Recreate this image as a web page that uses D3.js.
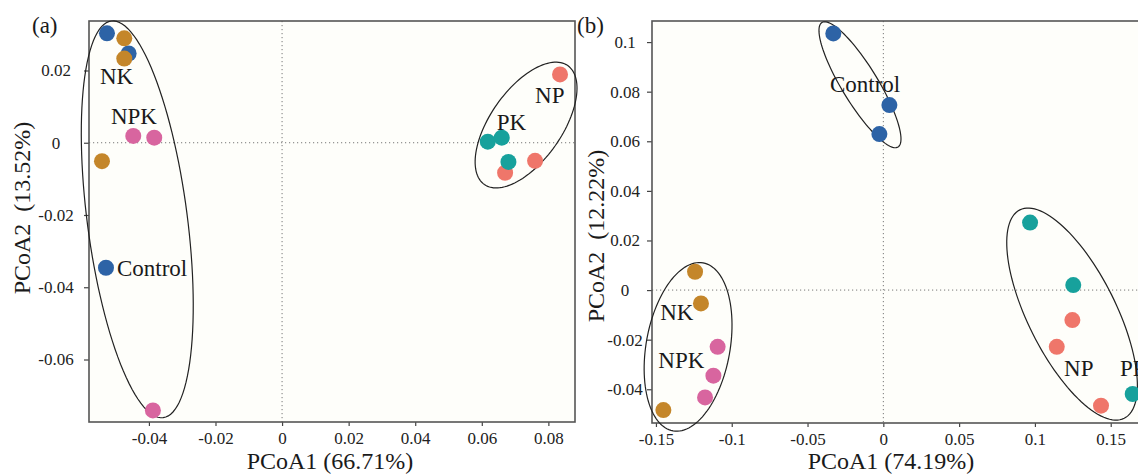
<!DOCTYPE html>
<html><head><meta charset="utf-8">
<script src="https://cdn.jsdelivr.net/npm/d3@7"></script>
<style>
html,body{margin:0;padding:0;background:#fff;overflow:hidden}
svg{display:block;font-family:"Liberation Serif","Times New Roman",serif}
</style></head>
<body><svg id="c" width="1138" height="476"></svg>
<script>
// ---------- DATA ----------
const groups = ["Control","NK","NPK","NP","PK"];
const groupColors = ["#2d63a6","#c4862a","#d8659f","#ef766a","#17a19c"];

// Panel (a) points: [group, PCoA1, PCoA2]
const pointsA = [
  ["Control",-0.0526,0.0303],["Control",-0.0461,0.0247],["Control",-0.0529,-0.0346],
  ["NK",-0.0474,0.0289],["NK",-0.0474,0.0233],["NK",-0.0541,-0.0051],
  ["NPK",-0.0447,0.0019],["NPK",-0.0384,0.0014],["NPK",-0.0388,-0.0741],
  ["NP",0.0835,0.0189],["NP",0.0670,-0.0083],["NP",0.0760,-0.0050],
  ["PK",0.0618,0.0003],["PK",0.0660,0.0014],["PK",0.0680,-0.0053]
];
// Panel (b) points
const pointsB = [
  ["Control",-0.0330,0.1035],["Control",0.0040,0.0746],["Control",-0.0026,0.0629],
  ["NK",-0.1242,0.0074],["NK",-0.1203,-0.0054],["NK",-0.1451,-0.0484],
  ["NPK",-0.1093,-0.0229],["NPK",-0.1121,-0.0345],["NPK",-0.1176,-0.0433],
  ["NP",0.1247,-0.0121],["NP",0.1144,-0.0229],["NP",0.1436,-0.0466],
  ["PK",0.0968,0.0272],["PK",0.1253,0.0020],["PK",0.1645,-0.0419]
];
// Ellipses: [centerX, centerY, axis1X, axis1Y, axis2X, axis2Y] in data units
const ellipsesA = [
  [-0.0435,-0.0212,-0.0078,0.0549,0.0149,0.0018],
  [0.0733,0.0049,0.01252,0.01646,0.0088,-0.00567]
];
const ellipsesB = [
  [-0.0154,0.0828,0.02507,-0.02512,-0.01016,-0.00379],
  [-0.1288,-0.0229,0.0099,0.03387,0.02724,-0.00298],
  [0.1245,-0.00968,0.03443,-0.04202,-0.02592,-0.00794]
];
// Group labels: [text, x, y] in data units
const labelsA = [["NK",-0.0547,0.01625],["NPK",-0.0514,0.0051],["Control",-0.0496,-0.0369],["PK",0.0645,0.0035],["NP",0.0760,0.0111]];
const labelsB = [["Control",-0.0352,0.0800],["NK",-0.1472,-0.0121],["NPK",-0.1484,-0.0313],["NP",0.1192,-0.0345],["PK",0.1561,-0.0345]];

const xTicksA = [-0.04,-0.02,0,0.02,0.04,0.06,0.08];
const yTicksA = [-0.06,-0.04,-0.02,0,0.02];
const xTicksB = [-0.15,-0.1,-0.05,0,0.05,0.1,0.15];
const yTicksB = [-0.04,-0.02,0,0.02,0.04,0.06,0.08,0.1];

const xDomainA = [-0.058,0.088], yDomainA = [-0.0773,0.0337];
const xDomainB = [-0.1526,0.2023], yDomainB = [-0.0536,0.1085];

const titlesA = {tag:"(a)", x:"PCoA1 (66.71%)", y:"PCoA2\u00A0\u00A0(13.52%)"};
const titlesB = {tag:"(b)", x:"PCoA1 (74.19%)", y:"PCoA2\u00A0\u00A0(12.22%)"};

// ---------- DRAW ----------
const svg = d3.select("#c");
const color = d3.scaleOrdinal(groups, groupColors);
const fmt = v => v === 0 ? "0" : String(v);

function panel(cfg){
  const {L,R,T,B} = cfg;
  const x = d3.scaleLinear(cfg.xd,[L,R]);
  const y = d3.scaleLinear(cfg.yd,[B,T]);
  const g = svg.append("g");
  g.append("rect").attr("x",L).attr("y",T).attr("width",R-L).attr("height",B-T).attr("fill","#fefefa");
  // zero lines
  g.append("line").attr("x1",x(0)).attr("x2",x(0)).attr("y1",T).attr("y2",B)
    .attr("stroke","#777").attr("stroke-width",1).attr("stroke-dasharray","1.2,2.8");
  g.append("line").attr("x1",L).attr("x2",R).attr("y1",y(0)).attr("y2",y(0))
    .attr("stroke","#777").attr("stroke-width",1).attr("stroke-dasharray","1.2,2.8");
  // axes
  const ax = g.append("g").attr("transform",`translate(0,${B})`)
    .call(d3.axisBottom(x).tickValues(cfg.xt).tickSize(4).tickFormat(fmt));
  const ay = g.append("g").attr("transform",`translate(${L},0)`)
    .call(d3.axisLeft(y).tickValues(cfg.yt).tickSize(5).tickFormat(fmt));
  [ax,ay].forEach(a=>{
    a.attr("font-family","Liberation Serif");
    a.select(".domain").remove();
    a.selectAll("line").attr("stroke","#444").attr("stroke-width",1.2);
    a.selectAll("text").attr("font-family","Liberation Serif").attr("font-size",17).attr("fill","#222");
  });
  ax.selectAll("text").attr("y",10);
  ay.selectAll("text").attr("text-anchor","middle").attr("x",-cfg.ylabOff);
  // frame
  g.append("rect").attr("x",L).attr("y",T).attr("width",R-L).attr("height",B-T)
    .attr("fill","none").attr("stroke","#555").attr("stroke-width",1.6);
  // ellipses
  const line = d3.line();
  cfg.ell.forEach(e=>{
    const pts = d3.range(0,121).map(i=>{
      const t = i/120*2*Math.PI;
      return [x(e[0]+Math.cos(t)*e[2]+Math.sin(t)*e[4]), y(e[1]+Math.cos(t)*e[3]+Math.sin(t)*e[5])];
    });
    g.append("path").attr("d",line(pts)+"Z").attr("fill","none").attr("stroke","#222").attr("stroke-width",1.2);
  });
  // points, drawn group by group
  groups.forEach(gr=>{
    g.selectAll(null).data(cfg.pts.filter(p=>p[0]===gr)).enter().append("circle")
      .attr("cx",d=>x(d[1])).attr("cy",d=>y(d[2])).attr("r",8).attr("fill",color(gr));
  });
  // labels
  g.selectAll(null).data(cfg.labels).enter().append("text")
    .attr("x",d=>x(d[1])).attr("y",d=>y(d[2])).text(d=>d[0])
    .attr("font-size",23).attr("fill","#1a1a1a");
  // titles
  svg.append("text").attr("x",cfg.xtx).attr("y",469).attr("text-anchor","middle")
    .attr("font-size",24).attr("fill","#1a1a1a").text(cfg.titles.x);
  svg.append("text").attr("transform",`translate(${cfg.ytx},${cfg.yty}) rotate(-90)`)
    .attr("text-anchor","middle").attr("dy","0.35em")
    .attr("font-size",24).attr("fill","#1a1a1a").text(cfg.titles.y);
  svg.append("text").attr("x",cfg.tagx).attr("y",33).attr("font-size",23).attr("fill","#1a1a1a").text(cfg.titles.tag);
}

panel({L:89,R:575,T:21,B:422,xd:xDomainA,yd:yDomainA,xt:xTicksA,yt:yTicksA,
  pts:pointsA,ell:ellipsesA,labels:labelsA,titles:titlesA,ylabOff:33,
  xtx:330,ytx:22,yty:208,tagx:32});
panel({L:652,R:1190,T:21,B:423,xd:xDomainB,yd:yDomainB,xt:xTicksB,yt:yTicksB,
  pts:pointsB,ell:ellipsesB,labels:labelsB,titles:titlesB,ylabOff:27,
  xtx:891,ytx:596,yty:236,tagx:577});
</script></body></html>
